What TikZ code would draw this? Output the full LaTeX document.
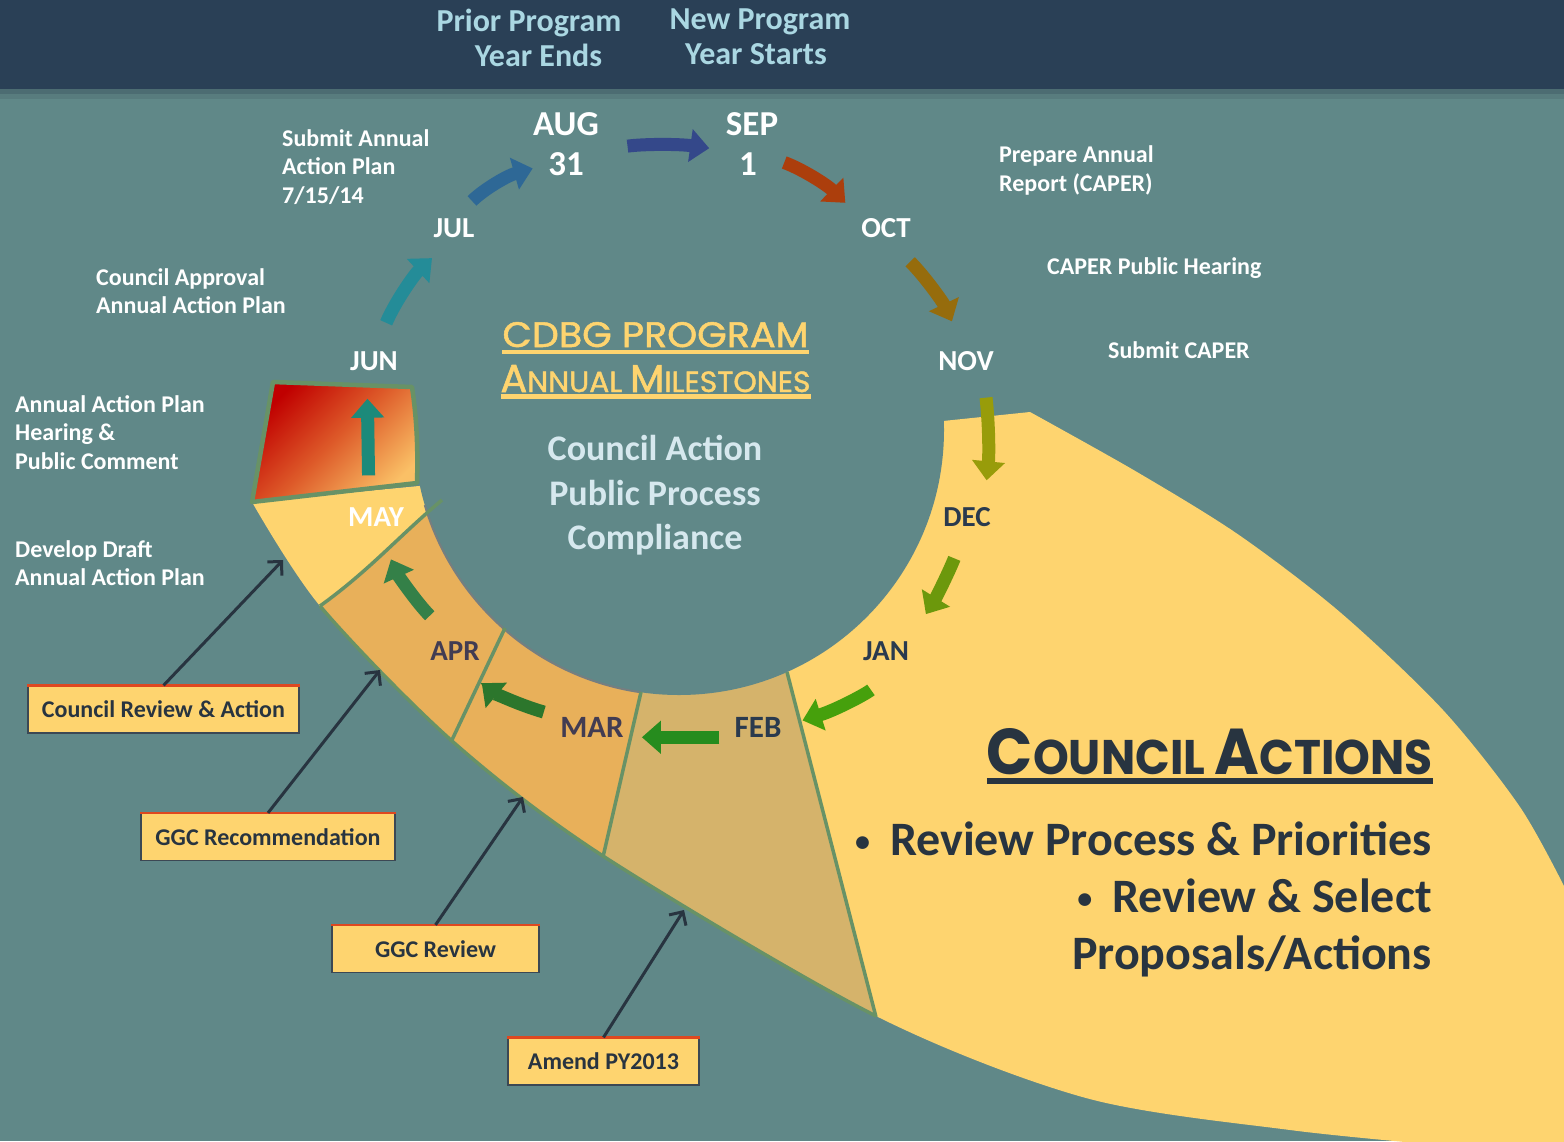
\documentclass[tikz,border=0pt]{standalone}
\usepackage{fontspec}
\setmainfont{Carlito}
\newfontfamily\gothicfont{Poppins}
\newfontfamily\gothicmid{Poppins}[FakeBold=1.4]
\usepackage{graphicx}
\usetikzlibrary{arrows.meta}

\newlength{\du}
\setlength{\du}{1pt}

\definecolor{tealback}{RGB}{96,136,136}
\definecolor{navyband}{RGB}{42,64,86}
\definecolor{bandedge}{RGB}{76,108,114}
\definecolor{bandedgelight}{RGB}{88,124,126}
\definecolor{ringyellow}{RGB}{254,212,111}
\definecolor{ringorange}{RGB}{232,176,90}
\definecolor{ringtan}{RGB}{213,179,107}
\definecolor{seamgreen}{RGB}{104,146,102}
\definecolor{holeshade}{RGB}{118,126,128}
\definecolor{junred}{RGB}{192,0,0}
\definecolor{junmid}{RGB}{222,92,42}
\definecolor{junlight}{RGB}{250,192,102}
\definecolor{headtext}{RGB}{170,215,226}
\definecolor{hubtext}{RGB}{214,232,238}
\definecolor{darklabel}{RGB}{42,58,78}
\definecolor{plumlabel}{RGB}{66,60,82}
\definecolor{inktext}{RGB}{40,52,64}
\definecolor{boxrim}{RGB}{60,72,84}
\definecolor{boxtopline}{RGB}{222,72,32}
\definecolor{flowmay}{RGB}{28,138,122}
\definecolor{flowjun}{RGB}{36,140,152}
\definecolor{flowjul}{RGB}{46,104,150}
\definecolor{flowaug}{RGB}{52,72,138}
\definecolor{flowsep}{RGB}{172,62,12}
\definecolor{flowoct}{RGB}{150,108,12}
\definecolor{flownov}{RGB}{152,156,10}
\definecolor{flowdec}{RGB}{108,152,12}
\definecolor{flowjan}{RGB}{70,160,12}
\definecolor{flowfeb}{RGB}{38,140,30}
\definecolor{flowmar}{RGB}{44,118,44}
\definecolor{flowapr}{RGB}{52,128,72}

\tikzset{
  monthlabel/.style={font=\bfseries\fontsize{29}{32}\selectfont, text=white, inner sep=0pt},
  bigmonth/.style={monthlabel, font=\bfseries\fontsize{35}{40}\selectfont},
  ringmonth/.style={monthlabel, text=#1},
  notetext/.style={font=\bfseries\fontsize{24}{28.5}\selectfont, text=white, align=left, anchor=north west, inner sep=0pt},
  headnote/.style={font=\bfseries\fontsize{32}{35}\selectfont, text=headtext, align=center, anchor=north, inner sep=0pt},
  monthflow/.style={draw=#1, line width=13pt, -{Triangle[length=19pt,width=32pt]}},
  seam/.style={draw=seamgreen, line width=3.5pt},
  junpanel/.style={draw=seamgreen, line width=4.5pt, line join=round, top color=junred, bottom color=junlight, middle color=junmid, shading angle=45},
  calloutbox/.style={draw=boxrim, line width=1.2pt, fill=ringyellow, text=inktext, font=\bfseries\fontsize{24}{26}\selectfont, minimum height=47\du, inner sep=0pt},
  boxtop/.style={draw=boxtopline, line width=2.5pt},
  pointer/.style={draw=inktext, line width=3pt, -{Straight Barb[length=10pt,width=20pt]}},
}

\newcommand{\ulined}[3]{\setbox0=\hbox{#3}\rlap{\rule[-#1]{\wd0}{#2}}\box0}
\newcommand{\gothsc}[2]{{\fontsize{40}{40}\selectfont #1}{\fontsize{30}{30}\selectfont #2}}
\newcommand{\smalldot}{\raisebox{4pt}{\fontsize{30}{30}\selectfont\textbullet}}
\newcommand{\ringrim}{plot[smooth] coordinates {(252\du,502\du) (320\du,606\du) (452\du,741\du) (603\du,856\du) (876\du,1016\du) (1086\du,1098\du) (1290\du,1130\du) (1450\du,1146\du)}}
\newcommand{\ringpath}{\ringrim -- (1600\du,1170\du) -- (1600\du,880\du) -- plot[smooth] coordinates {(1566\du,890\du) (1520\du,807\du) (1443\du,710\du) (1341\du,613\du) (1239\du,535\du) (1137\du,472\du) (1030\du,412\du)} -- (943\du,421\du) -- (679\du,430\du) -- (419\du,486\du) -- cycle}

\begin{document}
\begin{tikzpicture}
\pgftransformxscale{1.000000}
\pgftransformyscale{-1.000000}
\useasboundingbox (0\du,0\du) rectangle (1564\du,1141\du);
\clip (0\du,0\du) rectangle (1564\du,1141\du);
% background and title band
\fill[tealback] (0\du,0\du) rectangle (1564\du,1141\du);
\fill[navyband] (0\du,0\du) rectangle (1564\du,89\du);
\fill[bandedge] (0\du,89\du) rectangle (1564\du,94\du);
\fill[bandedgelight] (0\du,94\du) rectangle (1564\du,99\du);
\node[headnote] (priorend) at (529\du,9\du) {Prior Program\\\hspace*{19\du}Year Ends};
\node[headnote] (newstart) at (760\du,9\du) {New Program\\Year Starts\hspace*{8\du}};
% ring and council area
\fill[ringyellow] \ringpath;
\begin{scope}
\clip \ringpath;
\fill[ringorange] (320\du,606\du) .. controls (370\du,570\du) and (400\du,535\du) .. (442\du,500\du) -- (679\du,430\du) -- (641\du,692\du) -- (603\du,856\du) -- (560\du,900\du) -- (250\du,660\du) -- cycle;
\fill[ringtan] (679\du,430\du) -- (641\du,692\du) -- (603\du,856\du) -- (590\du,960\du) -- (900\du,1090\du) -- (876\du,1016\du) -- (787\du,672\du) -- cycle;
\end{scope}
\fill[tealback] (679\du,430\du) circle (265\du);
\begin{scope}
\clip (679\du,430\du) -- (205\du,570\du) -- (400\du,800\du) -- (622\du,823\du) -- cycle;
\draw[holeshade, line width=2pt] (679\du,430\du) circle (265\du);
\end{scope}
% seams
\draw[seam] (320\du,606\du) .. controls (370\du,570\du) and (400\du,535\du) .. (442\du,500\du);
\draw[seam] (505\du,628\du) -- (451\du,742\du);
\draw[seam] (641\du,692\du) -- (603\du,857\du);
\draw[seam] (787\du,672\du) -- (876\du,1017\du);
\begin{scope}
\clip (442\du,500\du) -- (250\du,667\du) -- (890\du,1075\du) -- (787\du,672\du) -- cycle;
\draw[seam] \ringrim;
\end{scope}
% june panel
\shadedraw[junpanel] (273\du,382\du) -- (412\du,387\du) .. controls (417\du,420\du) and (418\du,452\du) .. (417\du,483\du) -- (252\du,502\du) -- cycle;
% months
\node[bigmonth] (aug) at (566\du,124\du) {AUG};
\node[bigmonth] (augday) at (566\du,164\du) {31};
\node[bigmonth] (sep) at (752\du,124\du) {SEP};
\node[bigmonth] (sepday) at (748\du,164\du) {1};
\node[monthlabel] (jul) at (454\du,228\du) {JUL};
\node[monthlabel] (oct) at (886\du,228\du) {OCT};
\node[monthlabel] (jun) at (374\du,361\du) {JUN};
\node[monthlabel] (nov) at (966\du,361\du) {NOV};
\node[monthlabel] (may) at (376\du,517\du) {MAY};
\node[ringmonth=darklabel] (dec) at (967\du,517\du) {DEC};
\node[ringmonth=darklabel] (jan) at (886\du,651\du) {JAN};
\node[ringmonth=darklabel, font=\bfseries\fontsize{31}{34}\selectfont] (feb) at (758\du,727\du) {FEB};
\node[ringmonth=plumlabel, font=\bfseries\fontsize{31}{34}\selectfont] (mar) at (592\du,727\du) {MAR};
\node[ringmonth=plumlabel] (apr) at (455\du,651\du) {APR};
% month to month
\draw[monthflow=flowmay, shorten <=32\du, shorten >=28\du] ([xshift=-7\du]may.north) -- ([xshift=-7\du]jun.south);
\draw[monthflow=flowjun, shorten <=31\du, shorten >=30\du] (jun.north) to[bend right=12] (jul.south);
\draw[monthflow=flowjul, shorten <=25\du, shorten >=16\du] (jul.north) to[bend right=14] (augday.west);
\draw[monthflow=flowaug, shorten <=44\du, shorten >=30\du] (augday.north east) to[bend right=8] (sepday.north west);
\draw[monthflow=flowsep, shorten <=29\du, shorten >=22\du] (sepday.north east) to[bend right=12] (oct.north west);
\draw[monthflow=flowoct, shorten <=34\du, shorten >=33\du] (oct.south) to[bend right=10] (nov.north);
\draw[monthflow=flownov, shorten <=27\du, shorten >=27\du] ([xshift=17\du]nov.south) to[bend right=6] ([xshift=17\du]dec.north);
\draw[monthflow=flowdec, shorten <=34\du, shorten >=32\du] (dec.south) to[bend right=5] (jan.north east);
\draw[monthflow=flowjan, shorten <=48\du, shorten >=22\du] (jan.south east) to[bend right=10] (feb.east);
\draw[monthflow=flowfeb, shorten <=15\du, shorten >=18\du] (feb.south west) -- (mar.south east);
\draw[monthflow=flowmar, shorten <=17\du, shorten >=35\du] (mar.north west) to[bend right=12] (apr.south);
\draw[monthflow=flowapr, shorten <=36\du, shorten >=36\du] (apr.north) to[bend right=10] (may.south);
% notes round the year
\node[notetext] (submitplan) at (282\du,129\du) {Submit Annual\\Action Plan\\7/15/14};
\node[notetext] (approvalnote) at (96\du,268\du) {Council Approval\\Annual Action Plan};
\node[notetext] (hearingnote) at (15\du,395\du) {Annual Action Plan\\Hearing \&\\Public Comment};
\node[notetext] (draftnote) at (15\du,540\du) {Develop Draft\\Annual Action Plan};
\node[notetext, font=\bfseries\fontsize{24}{29}\selectfont] (capernote) at (999\du,145\du) {Prepare Annual\\Report (CAPER)};
\node[notetext] (caperhearing) at (1047\du,257\du) {CAPER Public Hearing};
\node[notetext] (capersubmit) at (1108\du,341\du) {Submit CAPER};
% hub titles
\node[anchor=base, inner sep=0pt, text=ringyellow] (cdbgtitle) at (655.5\du,347\du) {\resizebox{306\du}{25\du}{\gothicmid\fontsize{40}{40}\selectfont\ulined{7.9pt}{4.5pt}{CDBG PROGRAM}}};
\node[anchor=base, inner sep=0pt, text=ringyellow] (milestonetitle) at (655.5\du,392\du) {\resizebox{310\du}{27\du}{\gothicmid\fontsize{30}{30}\selectfont\ulined{7.3pt}{4.9pt}{\gothsc{A}{NNUAL} \gothsc{M}{ILESTONES}}}};
\node[anchor=north, align=center, inner sep=0pt, text=hubtext, font=\bfseries\fontsize{36}{44.5}\selectfont] (hubnote) at (655\du,435\du) {Council Action\\Public Process\\Compliance};
% council actions
\node[anchor=base east, inner sep=0pt, text=inktext] (actiontitle) at (1433\du,774\du) {\resizebox{446\du}{46\du}{\gothicfont\bfseries\fontsize{30}{30}\selectfont\ulined{6.1pt}{3.7pt}{\gothsc{C}{OUNCIL} \gothsc{A}{CTIONS}}}};
\node[anchor=north east, align=right, inner sep=0pt, text=inktext, font=\bfseries\fontsize{48}{57}\selectfont] (actionlist) at (1432\du,822\du) {\smalldot\hspace{20\du}Review Process \& Priorities\\\smalldot\hspace{20\du}Review \& Select\\Proposals/Actions};
% callouts
\node[calloutbox, minimum width=271\du] (councilbox) at (163.5\du,709.5\du) {Council Review \& Action};
\node[calloutbox, minimum width=254\du] (ggcrecbox) at (268\du,837\du) {GGC Recommendation};
\node[calloutbox, minimum width=207\du] (ggcreviewbox) at (435.5\du,949\du) {GGC Review};
\node[calloutbox, minimum width=191\du] (amendbox) at (603.5\du,1061.5\du) {Amend PY2013};
\foreach \cb in {councilbox,ggcrecbox,ggcreviewbox,amendbox}
  \draw[boxtop] (\cb.north west) -- (\cb.north east);
\coordinate (councilTip) at (283\du,560\du);
\coordinate (ggcrecTip) at (380\du,670\du);
\coordinate (ggcreviewTip) at (523\du,797\du);
\coordinate (amendTip) at (684\du,910\du);
\draw[pointer] (councilbox.north) -- (councilTip);
\draw[pointer] (ggcrecbox.north) -- (ggcrecTip);
\draw[pointer] (ggcreviewbox.north) -- (ggcreviewTip);
\draw[pointer] (amendbox.north) -- (amendTip);
\end{tikzpicture}
\end{document}
